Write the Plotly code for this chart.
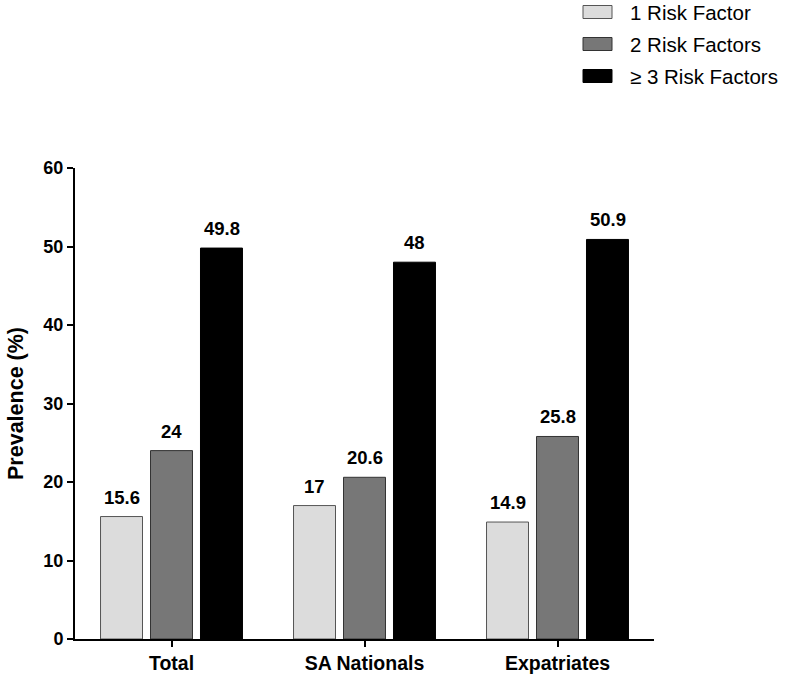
import plotly.graph_objects as go

categories = ["Total", "SA Nationals", "Expatriates"]
series_names = ["1 Risk Factor", "2 Risk Factors", "\u2265 3 Risk Factors"]
one_rf = [15.6, 17, 14.9]
two_rf = [24, 20.6, 25.8]
three_rf = [49.8, 48, 50.9]
series_values = [one_rf, two_rf, three_rf]
y_ticks = [0, 10, 20, 30, 40, 50, 60]

colors = ["#dcdcdc", "#777777", "#000000"]
line_colors = ["#555555", "#333333", "#000000"]
FONT = "Arial, Liberation Sans, Helvetica, sans-serif"

fig = go.Figure()
for name, vals, c, lc in zip(series_names, series_values, colors, line_colors):
    fig.add_trace(go.Bar(
        x=categories, y=vals, name=name,
        marker=dict(color=c, line=dict(color=lc, width=1)),
        showlegend=False,
    ))

# value labels above bars
offsets = [-50, 0, 50]
for vals, dx in zip(series_values, offsets):
    for cat, v in zip(categories, vals):
        fig.add_annotation(
            x=cat, y=v, xref="x", yref="y", text=f"<b>{v:g}</b>",
            showarrow=False, xshift=dx, yanchor="bottom", yshift=7,
            font=dict(family=FONT, size=18.5, color="#000"),
        )

# page-pixel geometry of the plot area
PX0, PX1, PY0, PY1 = 75, 654, 168, 639

# custom legend
for i, (name, c, lc) in enumerate(zip(series_names, colors, line_colors)):
    yc = 12 + i * 32
    fig.add_shape(type="rect", xref="paper", yref="paper",
                  x0=(583 - PX0) / (PX1 - PX0), x1=(612 - PX0) / (PX1 - PX0),
                  y0=(PY1 - (yc + 6.5)) / (PY1 - PY0), y1=(PY1 - (yc - 6.5)) / (PY1 - PY0),
                  fillcolor=c, line=dict(color=lc, width=1))
    fig.add_annotation(xref="paper", yref="paper",
                       x=(628 - PX0) / (PX1 - PX0), y=(PY1 - yc) / (PY1 - PY0),
                       xanchor="left", yanchor="middle", showarrow=False,
                       text=name, font=dict(family=FONT, size=20.5, color="#000"))

fig.update_layout(
    width=787, height=674,
    margin=dict(l=PX0, r=787 - PX1, t=PY0, b=674 - PY1),
    plot_bgcolor="white", paper_bgcolor="white",
    barmode="group", bargap=0.223, bargroupgap=0.16,
    font=dict(family=FONT, color="#000"),
)
fig.update_xaxes(
    range=[-0.5, 2.5], showline=True, linecolor="#000", linewidth=2,
    ticks="outside", ticklen=6, tickwidth=2, tickcolor="#000",
    showgrid=False, zeroline=False, automargin=False,
    tickfont=dict(family=FONT, size=19.5, color="#000"),
    tickvals=categories, ticktext=[f"<b>{c}</b>" for c in categories],
)
fig.update_yaxes(
    range=[0, 60], showline=True, linecolor="#000", linewidth=2,
    ticks="outside", ticklen=6, tickwidth=2, tickcolor="#000",
    showgrid=False, zeroline=False, tickvals=y_ticks, automargin=False,
    ticktext=[f"<b>{t}</b>" for t in y_ticks],
    tickfont=dict(family=FONT, size=18, color="#000"),
    title=dict(text="<b>Prevalence (%)</b>", font=dict(family=FONT, size=21.5, color="#000"), standoff=14),
)

fig.write_html("out.html", config={"displayModeBar": False},
               post_script="document.body.style.margin='0';document.body.style.overflow='hidden';")
